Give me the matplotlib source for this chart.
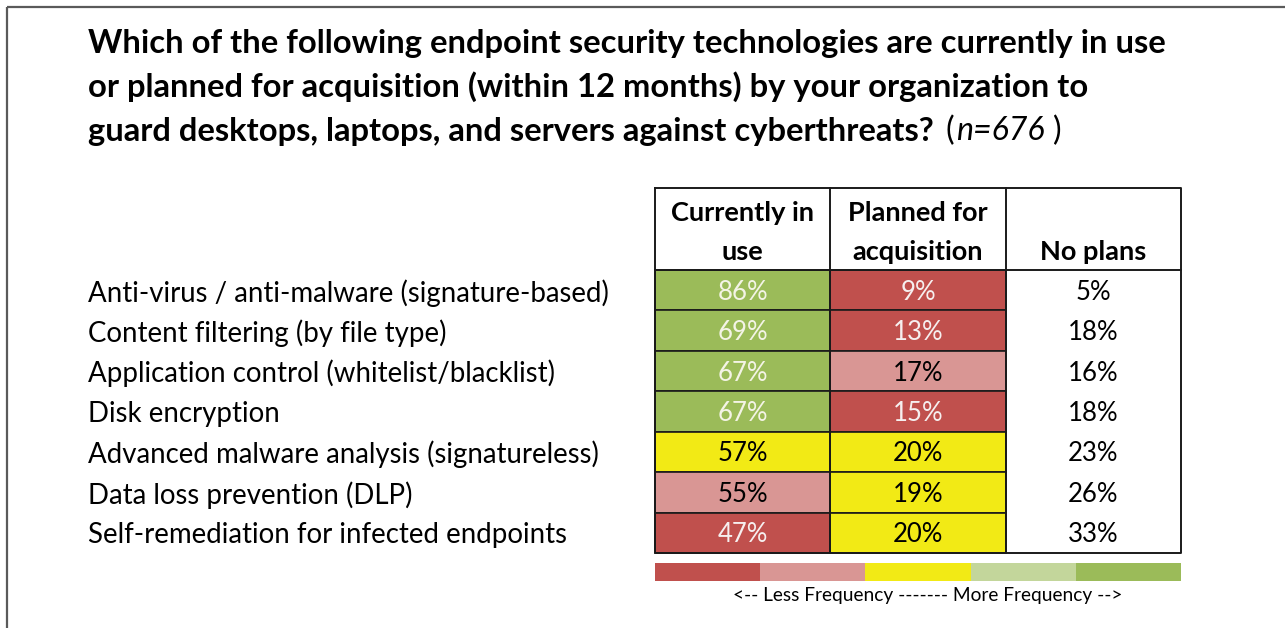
import matplotlib
matplotlib.use("Agg")
import matplotlib.pyplot as plt
from matplotlib.patches import Rectangle

# ---- data ----
title_lines = [
    "Which of the following endpoint security technologies are currently in use",
    "or planned for acquisition (within 12 months) by your organization to",
    "guard desktops, laptops, and servers against cyberthreats?",
]
sample_note = "n=676"
categories = [
    "Anti-virus / anti-malware (signature-based)",
    "Content filtering (by file type)",
    "Application control (whitelist/blacklist)",
    "Disk encryption",
    "Advanced malware analysis (signatureless)",
    "Data loss prevention (DLP)",
    "Self-remediation for infected endpoints",
]
columns = ["Currently in\nuse", "Planned for\nacquisition", "No plans"]
currently_in_use = [86, 69, 67, 67, 57, 55, 47]
planned = [9, 13, 17, 15, 20, 19, 20]
no_plans = [5, 18, 16, 18, 23, 26, 33]
# frequency tier (0 = least ... 4 = most), None = uncolored
tier_current = [4, 4, 4, 4, 2, 1, 0]
tier_planned = [0, 0, 1, 0, 2, 2, 2]
legend_label = "<-- Less Frequency ------- More Frequency -->"

tier_colors = ["#C0504D", "#D99694", "#F2EA15", "#C3D69B", "#9BBB59"]
tier_text = ["#F6EFEF", "black", "black", "black", "#F4F4E6"]

W, H = 1285, 628
fig = plt.figure(figsize=(W / 100, H / 100), dpi=100)
ax = fig.add_axes([0, 0, 1, 1])
ax.set_xlim(0, W)
ax.set_ylim(H, 0)
ax.axis("off")

FONT = "Lato"

# frame
ax.plot([6.5, 6.5], [6.5, H], color="#5a5a5a", lw=1.6, solid_capstyle="butt")
ax.plot([6.5, W], [6.5, 6.5], color="#5a5a5a", lw=1.6, solid_capstyle="butt")

# title
tx0 = 88
ty = [43, 87, 131]
title_fs = 23.6
objs = []
for i, line in enumerate(title_lines):
    t = ax.text(tx0, ty[i], line, fontsize=title_fs, fontweight="bold",
                family=FONT, va="center", ha="left", color="black")
    objs.append(t)
fig.canvas.draw()
r = fig.canvas.get_renderer()
bb = objs[2].get_window_extent(r)
x = bb.x1 + 12
t1 = ax.text(x, ty[2], "(", fontsize=title_fs - 0.5, family=FONT, va="center", ha="left")
fig.canvas.draw()
b1 = t1.get_window_extent(r)
t2 = ax.text(b1.x1 + 2, ty[2], sample_note, fontsize=title_fs - 0.5, family=FONT,
             style="italic", va="center", ha="left")
fig.canvas.draw()
b2 = t2.get_window_extent(r)
ax.text(b2.x1 + 8, ty[2], ")", fontsize=title_fs - 0.5, family=FONT, va="center", ha="left")

# table geometry
tab_x0, tab_x1 = 655, 1181
col_w = (tab_x1 - tab_x0) / 3
head_y0, data_y0, data_y1 = 188, 270, 553
row_h = (data_y1 - data_y0) / len(categories)

value_cols = [currently_in_use, planned, no_plans]
tier_cols = [tier_current, tier_planned, [None] * len(categories)]

cell_fs = 18.5
for j, (vals, tiers) in enumerate(zip(value_cols, tier_cols)):
    cx0 = tab_x0 + j * col_w
    for i, (v, tr) in enumerate(zip(vals, tiers)):
        cy0 = data_y0 + i * row_h
        if tr is not None:
            ax.add_patch(Rectangle((cx0, cy0), col_w, row_h, facecolor=tier_colors[tr],
                                   edgecolor="#1a1a1a", lw=1.2))
            tc = tier_text[tr]
        else:
            tc = "black"
        ax.text(cx0 + col_w / 2, cy0 + row_h / 2 + 2, f"{v}%", fontsize=cell_fs,
                family=FONT, ha="center", va="center", color=tc)

# header
for j, name in enumerate(columns):
    cx = tab_x0 + (j + 0.5) * col_w
    lines = name.split("\n")
    ys = [213, 252] if len(lines) == 2 else [252]
    for ln, yy in zip(lines, ys):
        ax.text(cx, yy, ln, fontsize=19.5, fontweight="bold", family=FONT,
                ha="center", va="center", color="black")

# table lines
lw = 1.4
ax.plot([tab_x0, tab_x1, tab_x1, tab_x0, tab_x0],
        [head_y0, head_y0, data_y1, data_y1, head_y0], color="#1a1a1a", lw=lw)
ax.plot([tab_x0, tab_x1], [data_y0, data_y0], color="#1a1a1a", lw=lw)
for j in (1, 2):
    xx = tab_x0 + j * col_w
    ax.plot([xx, xx], [head_y0, data_y1], color="#1a1a1a", lw=lw)

# row labels
for i, c in enumerate(categories):
    ax.text(88, data_y0 + (i + 0.5) * row_h + 2.5, c, fontsize=19.9, family=FONT,
            ha="left", va="center", color="black")

# legend bar
seg_w = (tab_x1 - tab_x0) / len(tier_colors)
for k, col in enumerate(tier_colors):
    ax.add_patch(Rectangle((tab_x0 + k * seg_w, 563), seg_w, 18, facecolor=col,
                           edgecolor="none"))
ax.text(928, 596, legend_label, fontsize=13.8, family=FONT,
        ha="center", va="center", color="black")

fig.savefig("out.png", dpi=100, facecolor="white")
